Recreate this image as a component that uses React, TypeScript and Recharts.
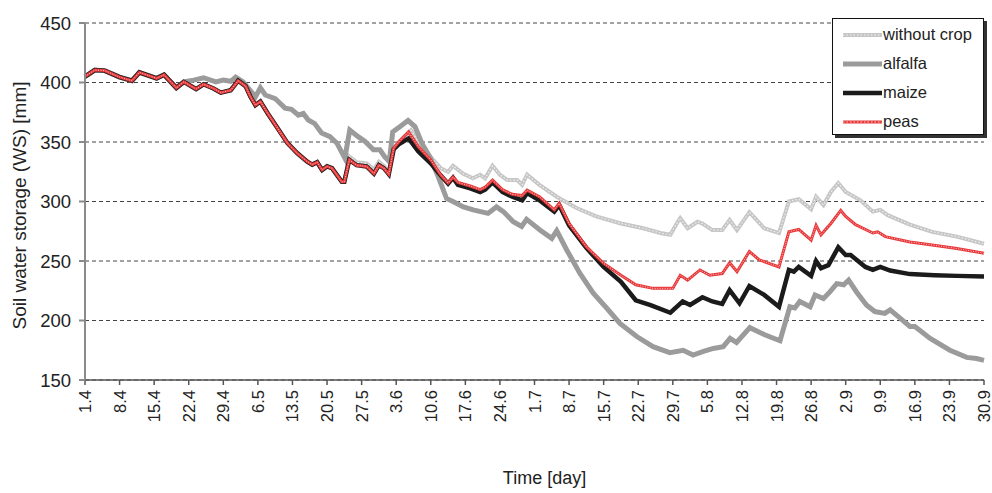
import { LineChart, Line, XAxis, YAxis, CartesianGrid, Legend } from "recharts";

// tick labels (one every 7 days, 1 April – 30 September)
const tickLabels = [
    "1.4", "8.4", "15.4", "22.4", "29.4", "6.5", "13.5", "20.5", "27.5", "3.6",
    "10.6", "17.6", "24.6", "1.7", "8.7", "15.7", "22.7", "29.7", "5.8", "12.8",
    "19.8", "26.8", "2.9", "9.9", "16.9", "23.9", "30.9",
];
const yTicks = [150, 200, 250, 300, 350, 400, 450];

// [day since 1.4, WS mm]
const commonStart: [number, number][] = [
    [0, 405], [2, 410.5], [4, 410], [7, 404.5], [9.5, 401.5], [11, 408.5],
    [13.5, 405], [14.5, 403.5], [16, 406.5], [18.5, 395.5], [20, 400.5],
];

const bareSoilEarly: [number, number][] = [
    [22.5, 394.5], [24, 398.5], [26, 395], [27.5, 391.5], [29.5, 393.5], [31, 401.5],
    [32.5, 397], [33.5, 388], [34.5, 381], [35.5, 384], [37, 374], [39, 361.5],
    [41, 349], [43, 340.5], [45, 333.5], [46, 331], [47, 333], [48, 326.5],
    [49, 329.5], [50, 328], [52, 316.5], [52.5, 316.5],
];

const withoutCrop: [number, number][] = [
    [53.5, 338], [55, 333], [57, 332], [58.5, 327], [59.5, 333.5], [60.5, 330],
    [61.5, 325], [62.5, 345], [64, 352], [66, 360], [67.5, 350], [69, 342],
    [72, 328], [73.5, 325], [74.5, 330], [76.5, 323.5], [78.5, 319.5], [80, 322.5],
    [81, 319.5], [82.5, 330], [84, 322.5], [85.5, 318], [87.5, 318], [88.5, 314],
    [89.5, 322.5], [92, 314], [95.5, 304], [99.5, 294.5], [103.5, 287.5], [108.5, 281.5],
    [113, 277.5], [116.5, 273.5], [118.5, 272], [120, 283], [120.5, 286], [122, 277.5],
    [124, 283], [125, 281.5], [127, 276], [129, 276], [130.5, 284.5], [132, 276],
    [134.5, 291], [137.5, 277.5], [140.5, 273.5], [142.5, 300], [144.5, 302], [147, 293.5],
    [148, 304], [149.5, 297], [151, 308], [152.5, 315.5], [154, 308], [157, 301],
    [159.5, 291.5], [161, 293], [162.5, 288.5], [167, 280.5], [171.5, 274.5], [176.5, 270.5],
    [182, 264.5],
];

const alfalfa: [number, number][] = [
    [22, 402], [24, 404], [26.5, 400.5], [28, 402], [29.5, 401], [30.5, 404.5],
    [32, 400.5], [34.5, 388], [35.5, 395.5], [36.5, 389.5], [38.5, 386.5], [40.5, 378.5],
    [41.8, 377.5], [43.2, 372.5], [44.2, 374], [45.2, 368.5], [46.5, 365.5], [47.9, 357.5],
    [49.6, 354.5], [51, 349], [52.6, 336.5], [53.6, 360], [55.3, 354.5], [56.7, 350.5],
    [58.4, 343.5], [59.7, 343.5], [60.7, 337.5], [61.6, 333.5], [62.3, 358.5], [63.8, 363],
    [65.4, 368], [66.8, 363], [68.2, 349], [69.8, 337.5], [71.5, 321], [73.2, 302.5],
    [74.5, 300], [76.6, 295.5], [78.6, 293], [81.6, 290], [83.3, 295.5], [84.7, 291.5],
    [86.7, 283], [88.4, 279], [89.4, 285], [92.1, 276], [94.5, 269], [95.5, 275.5],
    [97.5, 259.5], [100.2, 239.5], [102.9, 223], [105.6, 210.5], [108.3, 197.5], [111.7, 186.5],
    [115, 178], [118.4, 173], [121.1, 175], [123.1, 171], [125.2, 174], [127.2, 176.5],
    [129.2, 178], [130.6, 185], [131.9, 181.5], [134.6, 194], [137.6, 188], [140.7, 183],
    [142.7, 211.5], [143.7, 210.5], [144.7, 216], [146.8, 211.5], [147.8, 221.5], [149.5, 218.5],
    [150.8, 224], [152.2, 231], [153.6, 230], [154.6, 234], [156.2, 224], [158.2, 213],
    [159.9, 207.5], [161.9, 206], [163, 209], [165, 202], [167, 195], [168, 195],
    [171.1, 185], [175.1, 175], [178.5, 169], [180.5, 168], [182, 166.5],
];

const maize: [number, number][] = [
    [53.5, 335], [55, 330.5], [57, 329.5], [58.5, 323.5], [59.5, 330.5], [60.5, 328],
    [61.5, 323], [62.5, 344], [63.5, 348], [65.5, 353], [67.5, 342], [70, 332],
    [72, 322], [73.5, 315], [74.5, 320], [75.5, 314], [78, 311], [80, 308],
    [81, 310], [82.5, 316], [84.5, 308], [86.5, 304], [88.5, 301], [89.5, 307],
    [92, 301], [95, 291.5], [96, 297], [98, 280], [101.5, 261], [105, 245],
    [108.5, 232.5], [111.5, 217], [114.5, 213], [118.5, 206.5], [121, 216], [122.5, 213],
    [125, 219.5], [127, 216], [129, 214], [130.5, 225.5], [132.5, 214.5], [134.5, 229],
    [137.5, 221.5], [140.5, 211.5], [142.5, 242.5], [143.5, 241], [144.5, 245], [147, 237.5],
    [148, 250], [149, 244], [150.5, 246.5], [152.5, 261.5], [154, 255], [155, 255],
    [158, 245], [159.5, 242.5], [161, 245], [163, 242], [167, 239], [172, 238],
    [176.5, 237.5], [182, 237],
];

const peas: [number, number][] = [
    [53.5, 335], [55, 330.5], [57, 329.5], [58.5, 323.5], [59.5, 330.5], [60.5, 328],
    [61.5, 323], [62.5, 345], [63.5, 350], [65.5, 358.5], [67.5, 346], [70, 335],
    [72, 322.5], [73.5, 315.5], [74.5, 320.5], [75.5, 316], [78, 313], [80, 310],
    [81, 312], [82.5, 318], [84.5, 310], [86.5, 306], [88.5, 305], [89.5, 309.5],
    [92, 304], [95, 293], [96, 298.5], [98, 281.5], [101.5, 262], [105, 248],
    [108.5, 238], [111.5, 230], [115, 227], [119, 227], [120.5, 238], [122, 234],
    [124.5, 242.5], [126.5, 238], [129, 239.5], [130.5, 248.5], [132, 241], [134.5, 258],
    [136.5, 251], [140.5, 245], [142.5, 274.5], [144.5, 276.5], [147, 267.5], [148, 280],
    [149, 272], [151, 281.5], [153, 292.5], [154, 287.5], [156, 280.5], [159.5, 273.5],
    [160.5, 274.5], [162, 270.5], [167, 266], [171.5, 263.5], [176.5, 260.5], [182, 256.5],
];

const toRows = (pts: [number, number][]) => pts.map(([day, ws]) => ({ day, ws }));

const withoutCropData = toRows([...commonStart, ...bareSoilEarly, ...withoutCrop]);
const alfalfaData = toRows([...commonStart, ...alfalfa]);
const maizeData = toRows([...commonStart, ...bareSoilEarly, ...maize]);
const peasData = toRows([...commonStart, ...bareSoilEarly, ...peas]);

const xTicks = tickLabels.map((_, i) => i * 7);
const FONT = "'Liberation Sans', Arial, sans-serif";

function DateTick({ x, y, payload }: any) {
    const label = tickLabels[Math.round(payload.value / 7)];
    return (
        <text
            x={0}
            y={0}
            transform={`translate(${x},${y + 3}) rotate(-90)`}
            textAnchor="end"
            dominantBaseline="central"
            fontSize={16.5}
            fontFamily={FONT}
            fill="#222"
        >
            {label}
        </text>
    );
}

const legendItems = [
    { name: "without crop", color: "#c6c6c6", width: 4, dots: "#f2f2f2" },
    { name: "alfalfa", color: "#9b9b9b", width: 5 },
    { name: "maize", color: "#1b1b1b", width: 4.5 },
    { name: "peas", color: "#e8383a", width: 3, dots: "#ffc8c8" },
];

function LegendBox() {
    return (
        <div
            style={{
                width: 152,
                height: 117,
                background: "#fff",
                border: "1px solid #111",
                boxShadow: "3px 3px 0 #333",
                fontFamily: FONT,
                fontSize: 16.5,
                color: "#222",
                paddingTop: 1,
                boxSizing: "border-box",
            }}
        >
            {legendItems.map((it) => (
                <div key={it.name} style={{ display: "flex", alignItems: "center", height: 29 }}>
                    <svg width={50} height={10}>
                        <line x1={10} y1={5} x2={49} y2={5} stroke={it.color} strokeWidth={it.width} />
                        {it.dots && (
                            <line x1={10} y1={5} x2={49} y2={5} stroke={it.dots} strokeWidth={1.2} strokeDasharray="1.5 2" />
                        )}
                    </svg>
                    <span>{it.name}</span>
                </div>
            ))}
        </div>
    );
}

export default function App() {
    return (
        <div style={{ position: "absolute", left: 0, top: 0, background: "#fff" }}>
            <LineChart width={992} height={493} margin={{ top: 23, right: 8, left: 0, bottom: 0 }}>
                <CartesianGrid vertical={false} stroke="#444" strokeDasharray="4 3" strokeWidth={1} />
                <XAxis
                    dataKey="day"
                    type="number"
                    domain={[0, 182]}
                    ticks={xTicks}
                    interval={0}
                    height={113}
                    tick={<DateTick />}
                    tickSize={5}
                    stroke="#555"
                    strokeWidth={1.5}
                    label={{ value: "Time [day]", position: "insideBottom", offset: 9, dx: 10, fontSize: 18, fontFamily: FONT, fill: "#222" }}
                />
                <YAxis
                    type="number"
                    domain={[150, 450]}
                    ticks={yTicks}
                    width={85}
                    tickSize={6}
                    tickMargin={8}
                    stroke="#8a8a8a"
                    strokeWidth={2}
                    tick={{ fontSize: 18.5, fontFamily: FONT, fill: "#222" }}
                    label={{ value: "Soil water storage (WS) [mm]", angle: -90, position: "center", dx: -23, dy: 4, fontSize: 19, fontFamily: FONT, fill: "#222" }}
                />
                <Legend
                    layout="vertical"
                    align="center"
                    verticalAlign="middle"
                    content={<LegendBox />}
                    wrapperStyle={{ position: "absolute", left: 832, top: 18, width: 152, height: 117 }}
                />
                <Line data={withoutCropData} dataKey="ws" name="without crop" type="linear" stroke="#c6c6c6" strokeWidth={4} dot={false} isAnimationActive={false} />
                <Line data={withoutCropData} dataKey="ws" legendType="none" type="linear" stroke="#f0f0f0" strokeWidth={1.2} strokeDasharray="1.5 2" dot={false} isAnimationActive={false} />
                <Line data={alfalfaData} dataKey="ws" name="alfalfa" type="linear" stroke="#9b9b9b" strokeWidth={5} dot={false} isAnimationActive={false} />
                <Line data={maizeData} dataKey="ws" name="maize" type="linear" stroke="#1b1b1b" strokeWidth={4.5} dot={false} isAnimationActive={false} />
                <Line data={peasData} dataKey="ws" name="peas" type="linear" stroke="#e8383a" strokeWidth={3} dot={false} isAnimationActive={false} />
                <Line data={peasData} dataKey="ws" legendType="none" type="linear" stroke="#ffc8c8" strokeWidth={1} strokeDasharray="1 1.5" dot={false} isAnimationActive={false} />
            </LineChart>
        </div>
    );
}
